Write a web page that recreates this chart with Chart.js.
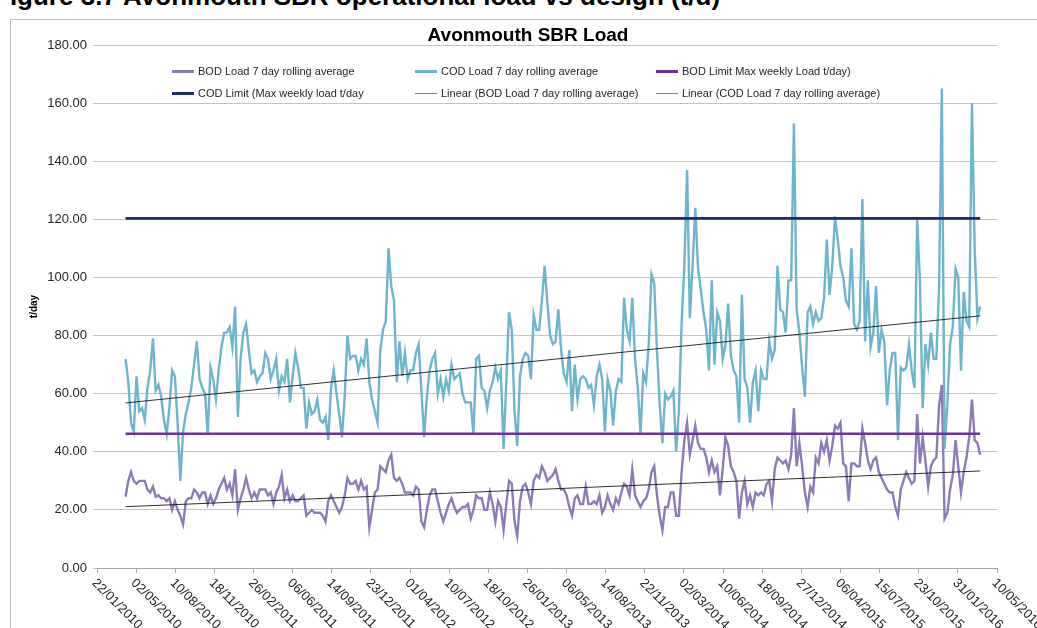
<!DOCTYPE html>
<html>
<head>
<meta charset="utf-8">
<script src="https://cdn.jsdelivr.net/npm/chart.js@4.4.0/dist/chart.umd.min.js"></script>
<style>
  html, body { margin: 0; padding: 0; background: #fff; }
  body { width: 1037px; height: 628px; position: relative; overflow: hidden; font-family: "Liberation Sans", Arial, sans-serif; }
  #caption { position: absolute; left: -6px; top: -19px; font: bold 26px "Liberation Sans", Arial, sans-serif; line-height: 30px; color: #000; white-space: nowrap; }
  #frame { position: absolute; left: 10px; top: 19px; width: 1040px; height: 620px; border: 1px solid #bdbdbd; }
  #title { position: absolute; left: 0; width: 1056px; top: 24px; text-align: center; font: bold 19px "Liberation Sans", Arial, sans-serif; color: #000; }
  #chart { position: absolute; left: 0; top: 0; }
  .lg { position: absolute; font-size: 11px; color: #262626; white-space: nowrap; line-height: 14px; }
  .lg i { position: absolute; left: -26px; top: 6px; width: 22px; }
</style>
</head>
<body>
<div id="caption">Figure 3.7 Avonmouth SBR operational load vs design (t/d)</div>
<div id="frame"></div>
<canvas id="chart" width="1037" height="628"></canvas>
<div id="title">Avonmouth SBR Load</div>
<div id="legend"></div>
<script>
// axis dates
const axisStart = '2010-01-22';
const axisEnd = '2016-05-10';
const tickStepDays = 100;
// first 7 day average point, then one point per week
const firstDate = '2010-04-05';
const stepDays = 7;

const seriesNames = [
  'BOD Load 7 day rolling average',
  'COD Load 7 day rolling average',
  'BOD Limit Max weekly Load t/day)',
  'COD Limit (Max weekly load t/day',
  'Linear (BOD Load 7 day rolling average)',
  'Linear (COD Load 7 day rolling average)'
];

// BOD load t/day, weekly reading
const bodLoad = [
  24.5,30,33,30,29,30,30,30,27,26, 28,24.5,25,24,24,23,24,20,23,20,
  18,15,23,24,24,27,26,24,26,26, 22,25,22,24,27,29,31,27,29,25,
  34,20,24,27,31,27,24,26,24,27,
  27,27,25,26,22,26,28,32,24,27, 23,25,23,23,24,25,18,19,20,19,
  19,19,18,16,23,25,23,21,19,21, 25,31,29,29,30,27,30,27,28,14,
  20,26,27,35,34,33,37,39,31,30, 31,29,26,
  26,26,25,28,27,16,14,20,25,27, 27,23,19,16,19,22,24,21,19,20,
  21,21,22,17,20,25,24,24,20,20, 26,22,16,23,21,13,22,30,29,16,
  11,23,28,29,26,22,30,32,31,35, 33,30,31,
  32,34,30,27,27,25,21,18,24,25, 22,22,28,22,22,23,22,25,19,21,
  25,22,20,24,22,26,29,28,25,34, 25,23,21,23,24,27,33,35,25,18,
  13,21,21,26,26,18,18,33,44,50, 39,44,49,
  43,41,41,38,33,37,33,35,25,34, 45,42,35,33,30,17,26,30,22,25,
  21,26,25,26,25,29,30,23,34,38, 37,36,37,34,39,55,35,43,35,26,
  21,28,26,38,36,43,40,44,37,42, 49,48,
  50,36,35,23,36,36,35,35,48,43, 37,34,37,38,33,31,29,27,26,26,
  21,18,27,30,33,31,29,30,53,36, 45,37,28,35,37,38,56,63,17,19,
  27,32,44,35,26,33,38,45,58,44, 43,39
];

// COD load t/day, weekly reading
const codLoad = [
  72,64,50,47,66,54,55,51,62,68, 79,61,63,59,51,46,55,68,66,50,
  30,47,53,57,62,70,78,65,62,60, 46,69,65,58,68,76,81,81,83,76,
  90,52,72,81,84,75,67,68,64,66,
  67,74,72,65,68,72,61,66,64,72, 57,66,74,69,62,62,48,57,53,54,
  58,51,50,52,44,62,68,60,53,45, 59,80,72,73,73,68,72,70,79,64,
  58,54,50,75,82,85,110,97,92,64, 78,66,74,
  65,68,68,74,77,61,45,59,68,72, 74,60,65,59,65,61,70,65,66,67,
  60,57,57,57,46,72,73,62,61,55, 61,64,69,65,68,41,64,88,82,54,
  42,66,72,74,73,65,87,82,82,92, 104,91,80,
  77,78,89,75,67,64,75,54,70,58, 65,66,65,62,63,56,66,70,65,47,
  65,61,49,61,65,64,93,82,78,93, 72,62,46,67,64,77,101,98,75,56,
  43,60,58,59,61,40,54,84,104,137, 86,104,124,
  103,96,88,82,68,99,70,88,85,72, 77,91,73,68,66,50,94,65,62,50,
  64,68,54,68,65,65,78,72,75,104, 89,88,81,99,99,153,89,81,69,59,
  88,90,84,88,85,86,93,113,94,104, 121,113,
  104,100,92,90,110,84,82,85,127,78, 99,76,81,97,74,82,78,56,68,74,
  74,44,69,68,69,77,68,62,120,99, 55,77,70,81,72,72,97,165,41,56,
  77,83,103,100,68,95,85,83,160,110, 86,90
];

// limits and linear trend, read at the first and last point
const bodLimit = [46.2, 46.2];
const codLimit = [120.3, 120.3];
const bodTrend = [21.1, 33.4];
const codTrend = [56.8, 86.8];

const colors = ['#8d7bb8', '#6db5cd', '#7030a0', '#1c2e6b', '#7f7f7f', '#7f7f7f'];

const DAY = 86400000;
const t0 = Date.parse(axisStart);
const toDay = s => Math.round((Date.parse(s) - t0) / DAY);
const axisMax = toDay(axisEnd);
const days = bodLoad.map((_, i) => toDay(firstDate) + i * stepDays);
const ends = [days[0], days[days.length - 1]];

function fmtDay(v) {
  const d = new Date(t0 + v * DAY);
  const p = n => String(n).padStart(2, '0');
  return p(d.getUTCDate()) + '/' + p(d.getUTCMonth() + 1) + '/' + d.getUTCFullYear();
}

const pts = (xs, ys) => ys.map((y, i) => ({x: xs[i], y}));

const datasets = [
  {label: seriesNames[0], data: pts(days, bodLoad), borderColor: colors[0], borderWidth: 2.4, order: 4},
  {label: seriesNames[1], data: pts(days, codLoad), borderColor: colors[1], borderWidth: 2.4, order: 3},
  {label: seriesNames[2], data: pts(ends, bodLimit), borderColor: colors[2], borderWidth: 2.6, order: 2},
  {label: seriesNames[3], data: pts(ends, codLimit), borderColor: colors[3], borderWidth: 2.8, order: 2},
  {label: seriesNames[4], data: pts(ends, bodTrend), borderColor: '#1a1a1a', borderWidth: 0.9, order: 1},
  {label: seriesNames[5], data: pts(ends, codTrend), borderColor: '#1a1a1a', borderWidth: 0.9, order: 1}
].map(d => Object.assign(d, {pointRadius: 0, tension: 0, fill: false}));

// rotated date labels, reading downwards like the original
const xLabels = {
  id: 'xLabels',
  afterDraw(chart) {
    const sc = chart.scales.x, ctx = chart.ctx;
    ctx.save();
    ctx.font = '13px "Liberation Sans", Arial, sans-serif';
    ctx.fillStyle = '#262626';
    ctx.textAlign = 'left';
    ctx.textBaseline = 'middle';
    sc.ticks.forEach(t => {
      const x = sc.getPixelForValue(t.value);
      ctx.save();
      ctx.translate(x - 3, sc.top + 13);
      ctx.rotate(Math.PI / 4);
      ctx.fillText(fmtDay(t.value), 0, 0);
      ctx.restore();
    });
    ctx.restore();
  }
};

Chart.defaults.font.family = '"Liberation Sans", Arial, sans-serif';
Chart.defaults.color = '#262626';

new Chart(document.getElementById('chart'), {
  type: 'line',
  data: {datasets},
  options: {
    responsive: false,
    animation: false,
    layout: {padding: {left: 28, right: 40, top: 45, bottom: 0}},
    plugins: {legend: {display: false}, tooltip: {enabled: false}},
    scales: {
      x: {
        type: 'linear', min: 0, max: axisMax,
        ticks: {display: false, stepSize: tickStepDays},
        grid: {drawOnChartArea: false, drawTicks: true, tickLength: 5, color: '#a6a6a6'},
        border: {color: '#a6a6a6'},
        afterFit: s => { s.height = 60; }
      },
      y: {
        min: 0, max: 180,
        ticks: {stepSize: 20, padding: 6, font: {size: 13}, callback: v => v.toFixed(2)},
        grid: {color: '#c4c4c4', tickLength: 4},
        border: {display: false},
        title: {display: true, text: 't/day', font: {size: 10, weight: 'bold'}, color: '#000', padding: 0},
        afterFit: s => { s.width = 69; }
      }
    }
  },
  plugins: [xLabels]
});

// legend laid out in two rows of three like the original
const legendPos = [[198, 64], [441, 64], [682, 64], [198, 86], [441, 86], [682, 86]];
const lg = document.getElementById('legend');
seriesNames.forEach((name, i) => {
  const d = document.createElement('div');
  d.className = 'lg';
  d.style.left = legendPos[i][0] + 'px';
  d.style.top = legendPos[i][1] + 'px';
  const thick = i >= 4 ? 1 : 3;
  d.innerHTML = '<i style="border-top:' + thick + 'px solid ' + colors[i] + ';top:' + (7 - Math.floor(thick / 2)) + 'px"></i>' + name;
  lg.appendChild(d);
});
</script>
</body>
</html>
